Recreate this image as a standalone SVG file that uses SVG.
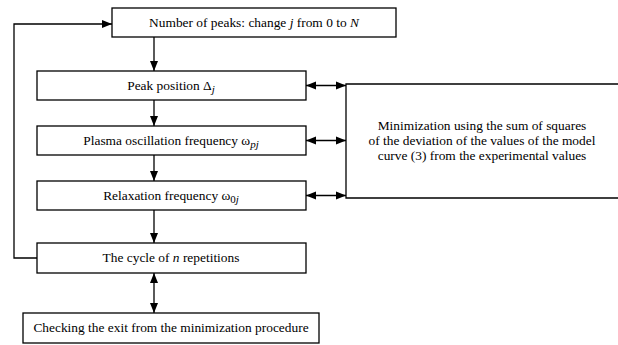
<svg xmlns="http://www.w3.org/2000/svg" width="618" height="345" viewBox="0 0 618 345">
<defs>
<marker id="ah" viewBox="0 0 10 10" refX="10" refY="5" markerWidth="10" markerHeight="10" markerUnits="userSpaceOnUse" orient="auto-start-reverse">
<path d="M0,1 L10,5 L0,9 Z" fill="#000"/>
</marker>
</defs>
<style>
.box{fill:#fff;stroke:#000;stroke-width:1.3}
.t{font-family:'Liberation Serif','DejaVu Serif',serif;font-size:13.4px;fill:#000;text-anchor:middle}
.c{fill:none;stroke:#000;stroke-width:1.3}
</style>
<rect width="618" height="345" fill="#fff"/>
<g id="connectors">
<line class="c" x1="154" y1="37" x2="154" y2="71" marker-end="url(#ah)"/>
<line class="c" x1="154" y1="100" x2="154" y2="126" marker-end="url(#ah)"/>
<line class="c" x1="154" y1="155" x2="154" y2="181" marker-end="url(#ah)"/>
<line class="c" x1="154" y1="210" x2="154" y2="243" marker-end="url(#ah)"/>
<line class="c" x1="154" y1="273" x2="154" y2="313" marker-start="url(#ah)" marker-end="url(#ah)"/>
<polyline class="c" points="37,258 14,258 14,24 112,24" marker-end="url(#ah)"/>
<line class="c" x1="306" y1="85.5" x2="346" y2="85.5" marker-start="url(#ah)" marker-end="url(#ah)"/>
<line class="c" x1="306" y1="140.5" x2="346" y2="140.5" marker-start="url(#ah)" marker-end="url(#ah)"/>
<line class="c" x1="306" y1="195.5" x2="346" y2="195.5" marker-start="url(#ah)" marker-end="url(#ah)"/>
</g>
<g id="n1"><rect class="box" x="112" y="8" width="284" height="29"/><text class="t" x="254" y="27">Number of peaks: change <tspan font-style="italic">j</tspan> from 0 to <tspan font-style="italic">N</tspan></text></g>
<g id="n2"><rect class="box" x="37" y="71" width="269" height="29"/><text class="t" x="171" y="90">Peak position Δ<tspan font-style="italic" font-size="11" dy="3">j</tspan></text></g>
<g id="n3"><rect class="box" x="37" y="126" width="269" height="29"/><text class="t" x="171" y="145">Plasma oscillation frequency ω<tspan font-style="italic" font-size="11" dy="3">pj</tspan></text></g>
<g id="n4"><rect class="box" x="37" y="181" width="269" height="29"/><text class="t" x="171" y="200">Relaxation frequency ω<tspan font-size="11" dy="3">0<tspan font-style="italic">j</tspan></tspan></text></g>
<g id="n5"><rect class="box" x="37" y="243" width="269" height="30"/><text class="t" x="171" y="262">The cycle of <tspan font-style="italic">n</tspan> repetitions</text></g>
<g id="n6"><rect class="box" x="23" y="313" width="296" height="30"/><text class="t" x="171" y="332">Checking the exit from the minimization procedure</text></g>
<g id="n7"><polyline class="c" points="618,84 346,84 346,198 618,198"/>
<text class="t" x="482" y="130">Minimization using the sum of squares</text>
<text class="t" x="482" y="145">of the deviation of the values of the model</text>
<text class="t" x="482" y="160">curve (3) from the experimental values</text></g>
</svg>
